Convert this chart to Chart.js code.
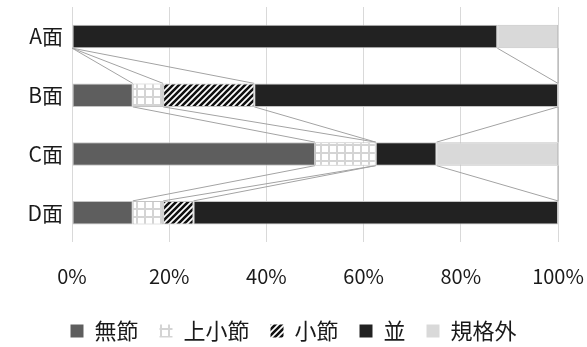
<!DOCTYPE html>
<html>
<head>
<meta charset="utf-8">
<script src="https://cdn.jsdelivr.net/npm/chart.js@4/dist/chart.umd.min.js"></script>
<style>
  html, body { margin: 0; padding: 0; background: #fff; }
  #wrap { width: 587px; height: 347px; }
</style>
</head>
<body>
<div id="wrap"><canvas id="chart" width="587" height="347"></canvas></div>
<script>
// 面ごとの節の区分（%）
const categories = ["A面", "B面", "C面", "D面"]
const seriesNames = ["無節", "上小節", "小節", "並", "規格外"]
const mubushi = [0, 12.5, 50, 12.5]
const joshobushi = [0, 6.25, 12.5, 6.25]
const shobushi = [0, 18.75, 0, 6.25]
const nami = [87.5, 62.5, 12.5, 75]
const kikakugai = [12.5, 0, 25, 0]
const xTicks = [0, 20, 40, 60, 80, 100]

const FONT = '"Noto Sans CJK JP", "Noto Sans", sans-serif'

// 格子模様（上小節）
function gridPattern() {
  const c = document.createElement("canvas")
  c.width = 8
  c.height = 8
  const g = c.getContext("2d")
  g.fillStyle = "#ffffff"
  g.fillRect(0, 0, 8, 8)
  g.fillStyle = "#d4d4d4"
  g.fillRect(0, 0, 2, 8)
  g.fillRect(0, 0, 8, 2)
  return g.createPattern(c, "repeat")
}

// 斜線模様（小節）
function stripePattern() {
  const s = 6
  const c = document.createElement("canvas")
  c.width = s
  c.height = s
  const g = c.getContext("2d")
  g.fillStyle = "#ffffff"
  g.fillRect(0, 0, s, s)
  g.strokeStyle = "#111111"
  g.lineWidth = 2.6
  g.beginPath()
  g.moveTo(-1, s + 1); g.lineTo(s + 1, -1)
  g.moveTo(-1, 1); g.lineTo(1, -1)
  g.moveTo(s - 1, s + 1); g.lineTo(s + 1, s - 1)
  g.stroke()
  return g.createPattern(c, "repeat")
}

const seriesValues = [mubushi, joshobushi, shobushi, nami, kikakugai]
const fills = ["#5e5e5e", gridPattern(), stripePattern(), "#222222", "#d9d9d9"]

// 区分線（隣り合う棒の境目を結ぶ線）
const seriesLines = {
  id: "seriesLines",
  beforeDatasetsDraw(chart) {
    const ctx = chart.ctx
    const x = chart.scales.x
    const metas = chart.data.datasets.map((d, i) => chart.getDatasetMeta(i))
    ctx.save()
    ctx.strokeStyle = "#a3a3a3"
    ctx.lineWidth = 1
    ctx.beginPath()
    for (let k = 0; k < seriesValues.length; k++) {
      for (let i = 0; i < categories.length - 1; i++) {
        let sumA = 0
        let sumB = 0
        for (let j = 0; j <= k; j++) {
          sumA += seriesValues[j][i]
          sumB += seriesValues[j][i + 1]
        }
        const barA = metas[k].data[i]
        const barB = metas[k].data[i + 1]
        const yA = barA.y + barA.height / 2
        const yB = barB.y - barB.height / 2
        ctx.moveTo(x.getPixelForValue(sumA), yA)
        ctx.lineTo(x.getPixelForValue(sumB), yB)
      }
    }
    ctx.stroke()
    ctx.restore()
  },
}

new Chart(document.getElementById("chart"), {
  type: "bar",
  data: {
    labels: categories,
    datasets: seriesNames.map((name, k) => ({
      label: name,
      data: seriesValues[k],
      backgroundColor: fills[k],
      borderColor: "#c4c4c4",
      borderWidth: 1,
      borderSkipped: false,
      categoryPercentage: 1,
      barPercentage: 0.4,
    })),
  },
  options: {
    indexAxis: "y",
    responsive: false,
    animation: false,
    layout: { padding: { top: 7, left: 0, right: 0, bottom: -5 } },
    scales: {
      x: {
        stacked: true,
        min: 0,
        max: 100,
        afterBuildTicks(scale) {
          scale.ticks = xTicks.map((v) => ({ value: v }))
        },
        afterFit(scale) {
          scale.height = 57
          scale.paddingLeft = 0
          scale.paddingRight = 29
        },
        ticks: {
          callback: (v) => v + "%",
          color: "#1a1a1a",
          font: { family: FONT, size: 20 },
          padding: 22,
          maxRotation: 0,
        },
        grid: { color: "#d9d9d9", lineWidth: 1, drawTicks: false },
        border: { display: false },
      },
      y: {
        stacked: true,
        afterFit(scale) {
          scale.width = 72
          scale.paddingTop = 0
          scale.paddingBottom = 0
        },
        ticks: {
          color: "#1a1a1a",
          font: { family: FONT, size: 21 },
          padding: 9,
        },
        grid: { display: false, drawTicks: false },
        border: { display: false },
      },
    },
    plugins: {
      tooltip: { enabled: false },
      legend: {
        position: "bottom",
        labels: {
          color: "#1a1a1a",
          font: { family: FONT, size: 22 },
          boxWidth: 13,
          boxHeight: 13,
          padding: 21,
          generateLabels(chart) {
            const items = Chart.defaults.plugins.legend.labels.generateLabels(chart)
            items.forEach((it) => { it.lineWidth = 0 })
            return items
          },
        },
      },
    },
  },
  plugins: [seriesLines],
})
</script>
</body>
</html>
